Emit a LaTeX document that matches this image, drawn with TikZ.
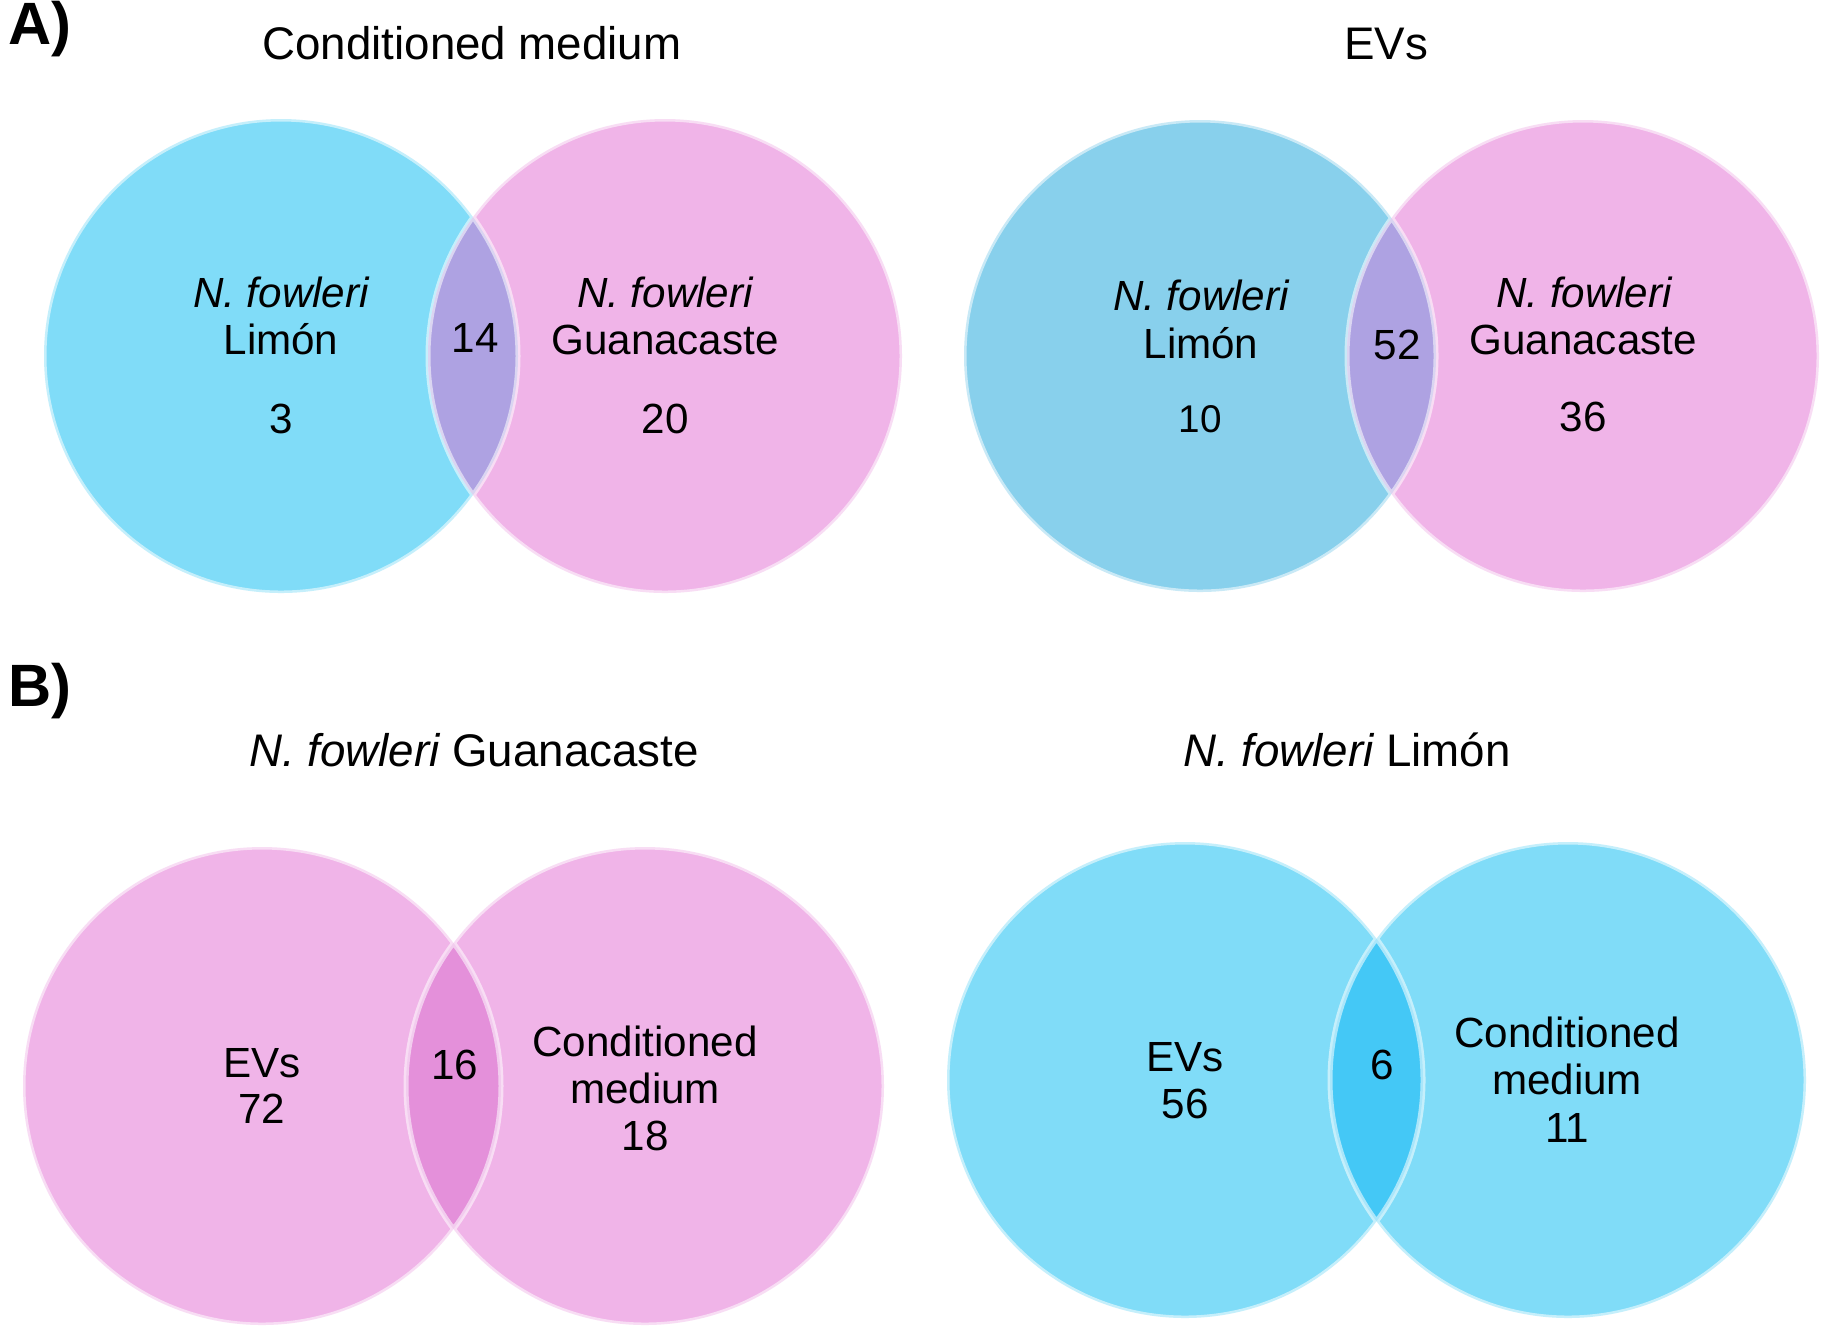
\documentclass[tikz,border=0pt]{standalone}
\usepackage{fontspec}
\setmainfont{Liberation Sans}
\usetikzlibrary{positioning}

\definecolor{limonblue}{HTML}{80DCF8}
\definecolor{evblue}{HTML}{88D0EC}
\definecolor{guanapink}{HTML}{F0B4E8}
\definecolor{lensviolet}{HTML}{AEA2E2}
\definecolor{lensmagenta}{HTML}{E490DA}
\definecolor{lenscyan}{HTML}{44C8F6}

\tikzset{
  rim/.style={draw=white, draw opacity=0.55, line width=0.5mm},
  panel/.style={font=\fontsize{17}{20}\selectfont\bfseries, anchor=base west, inner sep=0pt},
  title/.style={font=\fontsize{13}{16}\selectfont, anchor=base},
  label/.style={font=\fontsize{12}{14}\selectfont, anchor=base}
}

\begin{document}
\begin{tikzpicture}[x=0.1mm, y=-0.1mm]
        \fill[white] (0,0) rectangle (1829,1334);
        \useasboundingbox (0,0) rectangle (1829,1334);

        % panel A
        \node[panel] (panelA) at (8,44) {A)};
        \node[title] (cmTitle) at (472,59) {Conditioned medium};
        \node[title] (evTitle) at (1386,59) {EVs};

        % A, conditioned medium
        \coordinate (cmLimon) at (281,356);
        \coordinate (cmGuana) at (665,356);
        \fill[limonblue] (cmLimon) circle[radius=23.7mm];
        \fill[guanapink] (cmGuana) circle[radius=23.7mm];
        \begin{scope}
                \clip (cmLimon) circle[radius=23.7mm];
                \fill[lensviolet] (cmGuana) circle[radius=23.7mm];
        \end{scope}
        \draw[rim] (cmLimon) circle[radius=23.7mm] (cmGuana) circle[radius=23.7mm];

        \node[label] (cmLimonName) at (281,307) {\itshape N. fowleri};
        \node[label] (cmLimonSite) at (281,354) {Limón};
        \node[label] (cmLimonNum) at (281,433) {3};
        \node[label] (cmShared) at (475,352) {14};
        \node[label] (cmGuanaName) at (665,307) {\itshape N. fowleri};
        \node[label] (cmGuanaSite) at (665,354) {Guanacaste};
        \node[label] (cmGuanaNum) at (665,433) {20};

        % A, EVs
        \coordinate (evLimon) at (1200,356);
        \coordinate (evGuana) at (1583,356);
        \fill[evblue] (evLimon) circle[radius=23.6mm];
        \fill[guanapink] (evGuana) circle[radius=23.6mm];
        \begin{scope}
                \clip (evLimon) circle[radius=23.6mm];
                \fill[lensviolet] (evGuana) circle[radius=23.6mm];
        \end{scope}
        \draw[rim] (evLimon) circle[radius=23.6mm] (evGuana) circle[radius=23.6mm];

        \node[label] (evLimonName) at (1201,310) {\itshape N. fowleri};
        \node[label] (evLimonSite) at (1201,358) {Limón};
        \node[label, font=\fontsize{11}{13}\selectfont] (evLimonNum) at (1200,432) {10};
        \node[label] (evShared) at (1397,359) {52};
        \node[label] (evGuanaName) at (1584,307) {\itshape N. fowleri};
        \node[label] (evGuanaSite) at (1583,354) {Guanacaste};
        \node[label] (evGuanaNum) at (1583,431) {36};

        % panel B
        \node[panel] (panelB) at (8,706) {B)};
        \node[title] (guanaTitle) at (474,766) {\itshape N. fowleri\upshape{} Guanacaste};
        \node[title] (limonTitle) at (1347,766) {\itshape N. fowleri\upshape{} Limón};

        % B, Guanacaste
        \coordinate (guEV) at (262,1086);
        \coordinate (guCM) at (645,1086);
        \fill[guanapink] (guEV) circle[radius=23.9mm];
        \fill[guanapink] (guCM) circle[radius=23.9mm];
        \begin{scope}
                \clip (guEV) circle[radius=23.9mm];
                \fill[lensmagenta] (guCM) circle[radius=23.9mm];
        \end{scope}
        \draw[rim] (guEV) circle[radius=23.9mm] (guCM) circle[radius=23.9mm];

        \node[label] (guEVName) at (262,1077) {EVs};
        \node[label] (guEVNum) at (262,1123) {72};
        \node[label] (guShared) at (455,1079) {16};
        \node[label] (guCMName) at (645,1056) {Conditioned};
        \node[label] (guCMName2) at (645,1103) {medium};
        \node[label] (guCMNum) at (645,1150) {18};

        % B, Limon
        \coordinate (liEV) at (1185,1080);
        \coordinate (liCM) at (1568,1080);
        \fill[limonblue] (liEV) circle[radius=23.8mm];
        \fill[limonblue] (liCM) circle[radius=23.8mm];
        \begin{scope}
                \clip (liEV) circle[radius=23.8mm];
                \fill[lenscyan] (liCM) circle[radius=23.8mm];
        \end{scope}
        \draw[rim] (liEV) circle[radius=23.8mm] (liCM) circle[radius=23.8mm];

        \node[label] (liEVName) at (1185,1071) {EVs};
        \node[label] (liEVNum) at (1185,1118) {56};
        \node[label] (liShared) at (1382,1079) {6};
        \node[label] (liCMName) at (1567,1047) {Conditioned};
        \node[label] (liCMName2) at (1567,1094) {medium};
        \node[label] (liCMNum) at (1567,1142) {11};
\end{tikzpicture}
\end{document}
